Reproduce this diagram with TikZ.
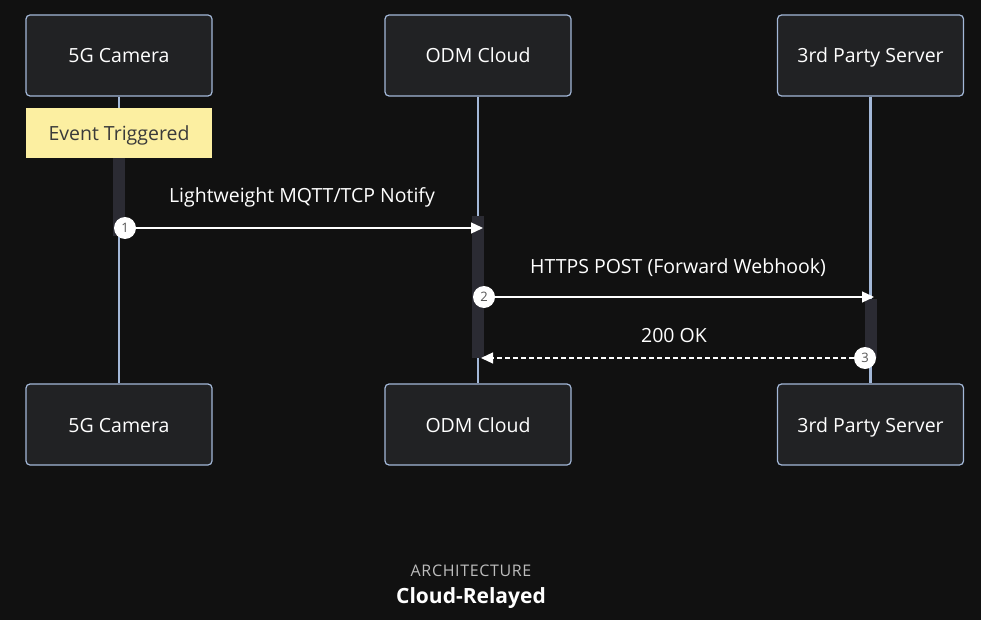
\documentclass[tikz,border=0pt]{standalone}
\usepackage{fontspec}
\setmainfont{Open Sans}
\usetikzlibrary{arrows.meta}
\definecolor{bg}{HTML}{111111}
\definecolor{boxfill}{HTML}{212224}
\definecolor{boxline}{HTML}{A3B8D8}
\definecolor{barfill}{HTML}{2B2B33}
\definecolor{noteyellow}{HTML}{FCEFA1}
\definecolor{notetext}{HTML}{3A3A3A}
\definecolor{numtext}{HTML}{555555}
\definecolor{capgrey}{HTML}{BDBDBD}
\tikzset{
  actor/.style={draw=boxline, line width=1.2pt, fill=boxfill, rounded corners=4pt,
    minimum width=186pt, minimum height=81pt, text=white, text height=16pt, text depth=1pt,
    font=\fontsize{19.5}{22}\selectfont},
  life/.style={draw=boxline, line width=2.2pt},
  actbar/.style={fill=barfill, draw=none},
  note/.style={fill=noteyellow, draw=none, minimum width=186pt, minimum height=50pt,
    text=notetext, text height=16pt, text depth=1pt, font=\fontsize{19.5}{22}\selectfont},
  num/.style={circle, fill=white, draw=none, minimum size=22pt, inner sep=0pt,
    text=numtext, font=\fontsize{13}{14}\selectfont},
  msg/.style={draw=white, line width=1.3pt, -{Triangle[length=12pt,width=11pt]}},
  reply/.style={msg, dash pattern=on 5pt off 3pt},
  lbl/.style={text=white, font=\fontsize{19.5}{22}\selectfont},
}
\begin{document}
\begin{tikzpicture}[x=1pt,y=-1pt]
\useasboundingbox[fill=bg] (0,0) rectangle (981,620);
% actors
\node[actor] (camT) at (119,55.5) {5G Camera};
\node[actor] (odmT) at (478,55.5) {ODM Cloud};
\node[actor] (srvT) at (870.5,55.5) {3rd Party Server};
\node[actor] (camB) at (119,424.5) {5G Camera};
\node[actor] (odmB) at (478,424.5) {ODM Cloud};
\node[actor] (srvB) at (870.5,424.5) {3rd Party Server};
% lifelines
\draw[life] (camT.south) -- (camB.north);
\draw[life] (odmT.south) -- (odmB.north);
\draw[life] (srvT.south) -- (srvB.north);
% note
\node[note] (evt) at (119,133) {Event Triggered};
% activation bars
\fill[actbar] (113,158) rectangle (125,236);
\fill[actbar] (472,216) rectangle (484,358);
\fill[actbar] (865,299) rectangle (877,358);
% message end points
\coordinate (m1end) at (483,228);
\coordinate (m2end) at (874,297);
\coordinate (m3end) at (481,358);
% numbered circles
\node[num] (n1) at (125,228) {1};
\node[num] (n2) at (484,297) {2};
\node[num] (n3) at (865,358) {3};
% messages
\draw[msg] (n1.east) -- (m1end);
\draw[msg] (n2.east) -- (m2end);
\draw[reply] (n3.west) -- (m3end);
% labels
\node[lbl] (l1) at (302,197.5) {Lightweight MQTT/TCP Notify};
\node[lbl] (l2) at (678,267.5) {HTTPS POST (Forward Webhook)};
\node[lbl] (l3) at (674,335.5) {200 OK};
% caption
\node[text=capgrey, font=\fontsize{16}{18}\selectfont\addfontfeature{LetterSpace=4}] (cap1) at (471,571) {ARCHITECTURE};
\node[text=white, font=\fontsize{21}{24}\selectfont\bfseries] (cap2) at (471,598) {Cloud-Relayed};
\end{tikzpicture}
\end{document}
